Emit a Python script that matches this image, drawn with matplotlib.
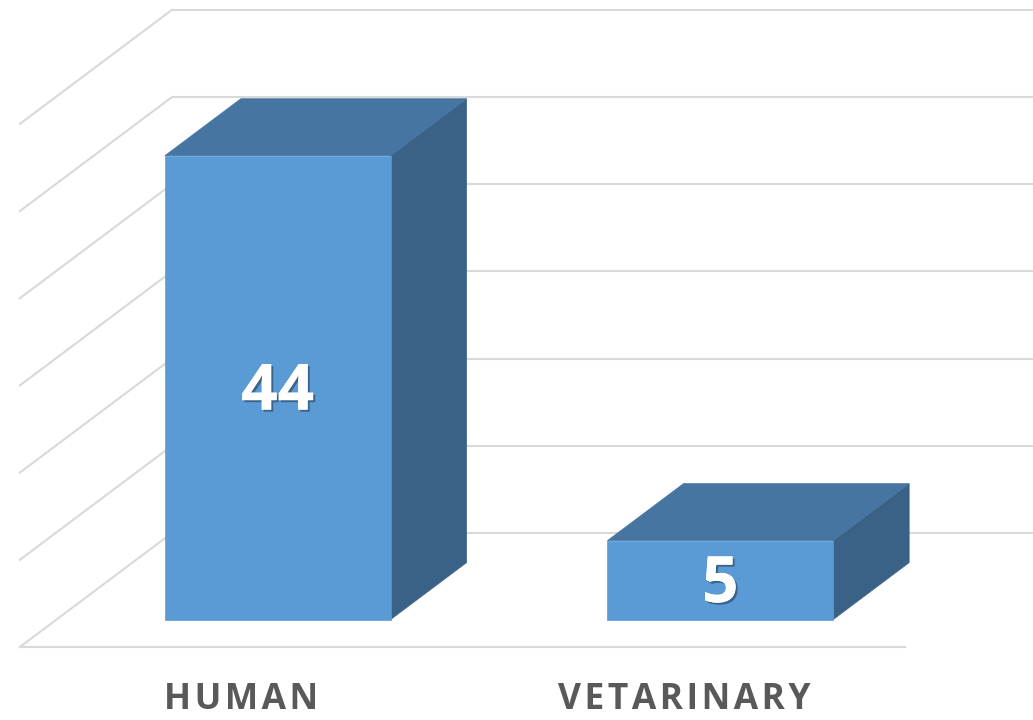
import numpy as np
import matplotlib.pyplot as plt
from matplotlib.patches import Polygon
import matplotlib.patheffects as pe

categories = ['HUMAN', 'VETARINARY']
values = [44, 5]
y_min, y_max = -3, 50          # value axis range of the 3-D chart
n_grid = 7                     # gridlines on the walls

# oblique projection: how far one full unit of depth shifts a point
DX, DY = 0.3435, 11.55
BAR_W = 0.51
D0, D1 = 0.24, 0.74            # bar depth slot

FRONT = '#5b9bd5'
TOP = '#4575a0'
SIDE = '#3a6287'
GRID = '#d9d9d9'


def proj(x, v, d):
    return x + d * DX, v + d * DY


fig = plt.figure(figsize=(10.33, 7.2), dpi=100)
ax = fig.add_axes([0, 0, 1, 1])
ax.set_xlim(-0.545, 1.789)
ax.set_ylim(-10.40, 62.55)
ax.axis('off')

# walls and floor
for g in np.linspace(y_min, y_max, n_grid):
    (xa, ya), (xb, yb) = proj(-0.5, g, 1), proj(1.5, g, 1)
    ax.plot([xa, xb], [ya, yb], color=GRID, lw=1.5, zorder=1, solid_capstyle='butt')
    (xa, ya), (xb, yb) = proj(-0.5, g, 0), proj(-0.5, g, 1)
    ax.plot([xa, xb], [ya, yb], color=GRID, lw=1.5, zorder=1)
(xa, ya), (xb, yb) = proj(-0.5, y_min, 0), proj(1.5, y_min, 0)
ax.plot([xa, xb], [ya, yb], color=GRID, lw=1.5, zorder=1)

# bars
shadow = [pe.withSimplePatchShadow(offset=(1.5, -1.5), shadow_rgbFace='black', alpha=0.35), pe.Normal()]
for i, v in enumerate(values):
    x0, x1 = i - BAR_W / 2, i + BAR_W / 2
    front = [proj(x0, y_min, D0), proj(x1, y_min, D0), proj(x1, v, D0), proj(x0, v, D0)]
    top = [proj(x0, v, D0), proj(x1, v, D0), proj(x1, v, D1), proj(x0, v, D1)]
    side = [proj(x1, y_min, D0), proj(x1, y_min, D1), proj(x1, v, D1), proj(x1, v, D0)]
    ax.add_patch(Polygon(side, closed=True, facecolor=SIDE, edgecolor=SIDE, lw=0.5, zorder=2))
    ax.add_patch(Polygon(top, closed=True, facecolor=TOP, edgecolor=TOP, lw=0.5, zorder=2))
    ax.add_patch(Polygon(front, closed=True, facecolor=FRONT, edgecolor=FRONT, lw=0.5, zorder=3))
    lx, ly = proj(i, (y_min + v) / 2, D0)
    ax.text(lx, ly - 0.55, str(v), ha='center', va='center', color='white', fontsize=46,
            fontweight='bold', family='Open Sans', zorder=4, path_effects=shadow)
    # Excel-style letter spacing via hair spaces
    spaced = '\u200a'.join(categories[i])
    ax.text(i, y_min - 6.25, spaced, ha='center', va='baseline', color='#595959',
            fontsize=25.5, fontweight='bold', family=['Open Sans', 'DejaVu Sans'], zorder=4)

plt.savefig('out.png', dpi=100)
